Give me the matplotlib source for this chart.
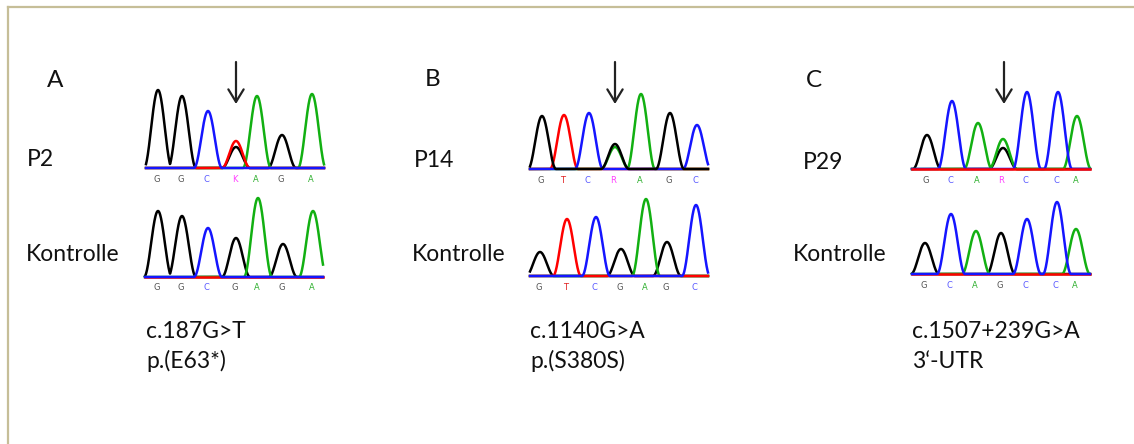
import matplotlib
matplotlib.use("Agg")
import matplotlib.pyplot as plt
import numpy as np
from matplotlib.lines import Line2D

W, H = 1134, 444

# dye colours of the four channels and of the base calls
dye = {'G': '#000000', 'A': '#12B012', 'T': '#FF0000', 'C': '#1515FF'}
call_col = {'G': '#555555', 'A': '#30B030', 'T': '#E02020', 'C': '#5A5AFF',
            'K': '#FF40FF', 'R': '#FF40FF'}
iupac = {'K': ('T', 'G'), 'R': ('A', 'G')}

# A: c.187G>T
p2_calls = "GGCKAGA"
p2_scan = [12, 36, 62, 90, 111, 136, 166]
p2_signal = [78, 72, 57, (27, 21), 72, 33, 74]
ctrl_a_calls = "GGCGAGA"
ctrl_a_scan = [13, 37, 63, 91, 113, 138, 168]
ctrl_a_signal = [66, 61, 49, 39, 79, 33, 66]

# B: c.1140G>A
p14_calls = "GTCRAGC"
p14_scan = [12, 34, 59, 85, 111, 140, 167]
p14_signal = [53, 54, 56, (22, 25), 75, 56, 44]
ctrl_b_calls = "GTCGAGC"
ctrl_b_scan = [10, 37, 66, 91, 116, 137, 166]
ctrl_b_signal = [24, 57, 59, 27, 77, 34, 71]

# C: c.1507+239G>A
p29_calls = "GCARCCA"
p29_scan = [15, 40, 66, 91, 115, 146, 165]
p29_signal = [34, 68, 46, (30, 21), 77, 77, 53]
ctrl_c_calls = "GCAGCCA"
ctrl_c_scan = [13, 39, 64, 89, 115, 145, 164]
ctrl_c_signal = [31, 60, 43, 41, 55, 72, 45]

fig = plt.figure(figsize=(W / 100, H / 100), dpi=100)
fig.patch.set_facecolor('white')

# page frame
frame_col = '#C6BE98'
fig.add_artist(Line2D([8 / W, 8 / W], [0, 1 - 7 / H], color=frame_col, lw=1.6))
fig.add_artist(Line2D([8 / W, 1], [1 - 7 / H, 1 - 7 / H], color=frame_col, lw=1.6))

# overlay in pixel units for the labels and arrows
ov = fig.add_axes([0, 0, 1, 1])
ov.set_xlim(0, W)
ov.set_ylim(H, 0)
ov.axis('off')
ov.patch.set_alpha(0)


def peak(x, pos, h, w=14.0):
    d = np.clip((x - pos) / w, -1, 1)
    return h * np.cos(d * np.pi / 2) ** 2


def trace(x0, y_base, calls, scan, signal, base_ch='C', width=178):
    ax = fig.add_axes([x0 / W, (H - y_base - 3) / H, width / W, 91 / H])
    ax.set_xlim(0, width)
    ax.set_ylim(-3, 88)
    ax.axis('off')
    x = np.linspace(0, width, 900)
    ch = {c: np.zeros_like(x) for c in 'GATC'}
    for c, pos, s in zip(calls, scan, signal):
        if c in iupac:
            for cc, hh in zip(iupac[c], s):
                ch[cc] = np.maximum(ch[cc], peak(x, pos, hh))
        else:
            ch[c] = np.maximum(ch[c], peak(x, pos, s))
    order = [c for c in 'GATC' if c != base_ch] + [base_ch]
    for c in order:
        ax.plot(x, ch[c], color=dye[c], lw=1.8, clip_on=False)
    for c, pos in zip(calls, scan):
        ax.text(pos - 1.5, -11, c, color=call_col[c], ha='center', va='center',
                fontsize=6, family='DejaVu Sans', clip_on=False)
    return ax


trace(146, 168, p2_calls, p2_scan, p2_signal, 'C')
trace(145, 277, ctrl_a_calls, ctrl_a_scan, ctrl_a_signal, 'C')
trace(530, 169, p14_calls, p14_scan, p14_signal, 'G')
trace(530, 276, ctrl_b_calls, ctrl_b_scan, ctrl_b_signal, 'C')
trace(912, 169, p29_calls, p29_scan, p29_signal, 'T')
trace(912, 274, ctrl_c_calls, ctrl_c_scan, ctrl_c_signal, 'C')

font = 'Lato'
lab = dict(family=font, fontsize=16.5, color='#111111', va='baseline')
big = dict(family=font, fontsize=17.5, color='#111111', va='baseline')

ov.text(47, 87, 'A', **big)
ov.text(425, 86, 'B', **big)
ov.text(806, 87, 'C', **big)

ov.text(27, 166, 'P2', **lab)
ov.text(414, 167, 'P14', **lab)
ov.text(803, 169, 'P29', **lab)

for xk in (26, 412, 793):
    ov.text(xk, 261, 'Kontrolle', **lab)

ov.text(146, 338, 'c.187G>T', **lab)
ov.text(146, 368, 'p.(E63*)', **lab)
ov.text(530, 338, 'c.1140G>A', **lab)
ov.text(530, 368, 'p.(S380S)', **lab)
ov.text(912, 338, 'c.1507+239G>A', **lab)
ov.text(912, 368, '3‘-UTR', **lab)

# arrows marking the variant position
for xa in (236, 615, 1004):
    ov.annotate('', xy=(xa, 104), xytext=(xa, 62),
                arrowprops=dict(arrowstyle='->,head_length=0.9,head_width=0.55',
                                lw=1.6, color='#222222', shrinkA=0, shrinkB=0))

fig.savefig('out.png', dpi=100, facecolor='white')
